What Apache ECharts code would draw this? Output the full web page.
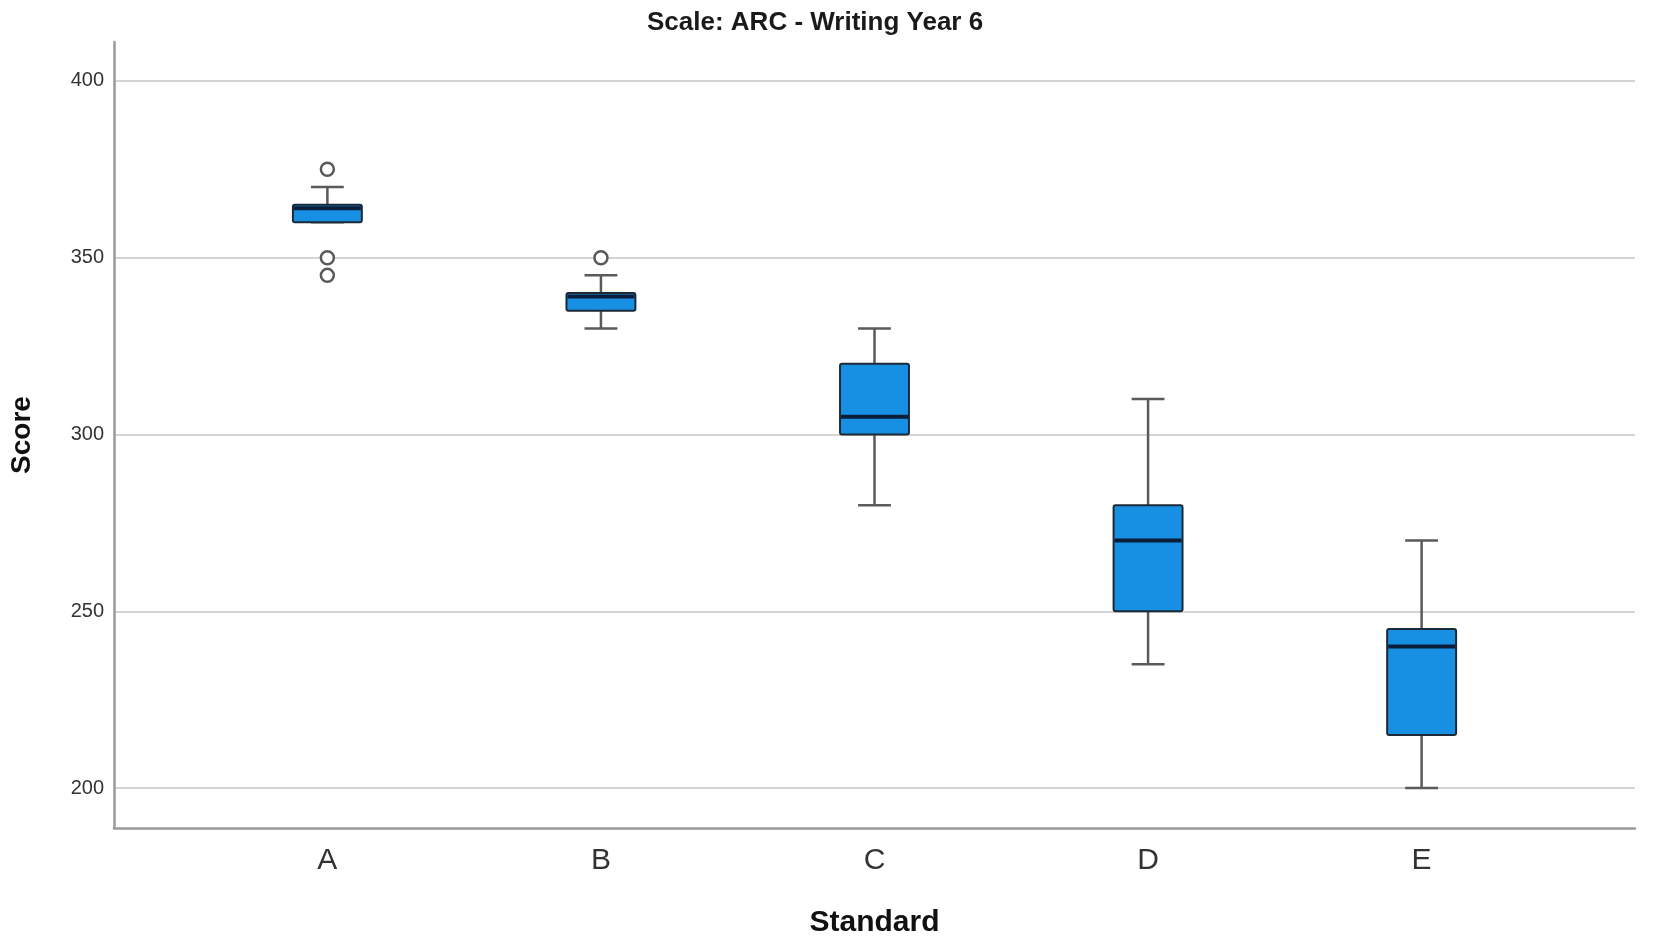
<!DOCTYPE html>
<html lang="en">
  <head>
    <meta charset="UTF-8" />
    <title>Scale: ARC - Writing Year 6</title>
    <script src="https://cdn.jsdelivr.net/npm/echarts@6/dist/echarts.min.js"></script>
    <style>
      html, body { margin: 0; padding: 0; background: #fff; }
      #boxChart { width: 1654px; height: 947px; }
    </style>
  </head>
  <body>
    <div id="boxChart"></div>
    <script>
      // data
      var categories = ['A', 'B', 'C', 'D', 'E'];
      var whiskerLow = [360, 330, 280, 235, 200];
      var q1 = [360, 335, 300, 250, 215];
      var median = [364, 339, 305, 270, 240];
      var q3 = [365, 340, 320, 280, 245];
      var whiskerHigh = [370, 345, 330, 310, 270];
      // [category index, score]
      var outliers = [[0, 375], [0, 350], [0, 345], [1, 350]];
      var yTicks = [200, 250, 300, 350, 400];

      drawBoxChart();

      function drawBoxChart() {
        var chartDom = document.getElementById('boxChart');
        var chart = echarts.init(chartDom);

        var boxData = [];
        for (var i = 0; i < categories.length; i++) {
          boxData.push([i, whiskerLow[i], q1[i], median[i], q3[i], whiskerHigh[i]]);
        }

        var boxWidth = 0.252; // in x units
        var capWidth = 0.12;

        // SPSS-like box: narrow whisker caps, thick dark median
        var renderBox = function (params, api) {
          var x = api.value(0);
          var pLow = api.coord([x, api.value(1)]);
          var pQ1 = api.coord([x, api.value(2)]);
          var pMed = api.coord([x, api.value(3)]);
          var pQ3 = api.coord([x, api.value(4)]);
          var pHigh = api.coord([x, api.value(5)]);
          var bw = api.size([boxWidth, 0])[0];
          var cw = api.size([capWidth, 0])[0];
          var cx = pMed[0];
          var whiskerStyle = { stroke: '#5a5a5a', lineWidth: 2.5 };

          return {
            type: 'group',
            children: [
              { type: 'line', shape: { x1: cx, y1: pHigh[1], x2: cx, y2: pQ3[1] }, style: whiskerStyle },
              { type: 'line', shape: { x1: cx, y1: pLow[1], x2: cx, y2: pQ1[1] }, style: whiskerStyle },
              { type: 'line', shape: { x1: cx - cw / 2, y1: pHigh[1], x2: cx + cw / 2, y2: pHigh[1] }, style: whiskerStyle },
              { type: 'line', shape: { x1: cx - cw / 2, y1: pLow[1], x2: cx + cw / 2, y2: pLow[1] }, style: whiskerStyle },
              {
                type: 'rect',
                shape: { x: cx - bw / 2, y: pQ3[1], width: bw, height: pQ1[1] - pQ3[1], r: 2 },
                style: { fill: '#1790e4', stroke: '#1c2a38', lineWidth: 2 }
              },
              {
                type: 'line',
                shape: { x1: cx - bw / 2 + 1, y1: pMed[1], x2: cx + bw / 2 - 1, y2: pMed[1] },
                style: { stroke: '#0a1e3a', lineWidth: 4 }
              }
            ]
          };
        };

        var option = {
          backgroundColor: '#fff',
          animation: false,
          title: {
            text: 'Scale: ARC - Writing Year 6',
            left: 642,
            top: 5,
            textStyle: {
              fontFamily: 'Liberation Sans',
              fontSize: 26,
              fontWeight: 'bold',
              color: '#1a1a1a'
            }
          },
          grid: {
            left: 112,
            right: 19,
            top: 42,
            bottom: 119
          },
          xAxis: {
            type: 'value',
            min: -0.78,
            max: 4.78,
            name: 'Standard',
            nameLocation: 'middle',
            nameGap: 80,
            nameTextStyle: {
              fontFamily: 'Liberation Sans',
              fontSize: 30,
              fontWeight: 'bold',
              color: '#111'
            },
            axisLine: { onZero: false, lineStyle: { color: '#9a9a9a', width: 2.5 } },
            axisTick: { show: false },
            splitLine: { show: false },
            axisLabel: {
              customValues: [0, 1, 2, 3, 4],
              margin: 18,
              fontFamily: 'Liberation Sans',
              fontSize: 30,
              color: '#333',
              formatter: function (v) {
                return categories[Math.round(v)];
              }
            }
          },
          yAxis: {
            type: 'value',
            min: 188.7,
            max: 411,
            name: 'Score',
            nameLocation: 'middle',
            nameGap: 78,
            nameTextStyle: {
              fontFamily: 'Liberation Sans',
              fontSize: 28,
              fontWeight: 'bold',
              color: '#111'
            },
            axisLine: { show: true, onZero: false, lineStyle: { color: '#9a9a9a', width: 2.5 } },
            axisTick: { show: false, customValues: yTicks },
            splitLine: { show: true, lineStyle: { color: '#d4d4d4', width: 2 } },
            axisLabel: {
              customValues: yTicks,
              margin: 10,
              fontFamily: 'Liberation Sans',
              fontSize: 20,
              color: '#333'
            }
          },
          series: [
            {
              name: 'box',
              type: 'custom',
              renderItem: renderBox,
              encode: { x: 0, y: [1, 2, 3, 4, 5] },
              data: boxData,
              z: 3
            },
            {
              name: 'outlier',
              type: 'scatter',
              symbol: 'circle',
              symbolSize: 13,
              itemStyle: { color: '#fff', borderColor: '#5a5a5a', borderWidth: 2.5, opacity: 1 },
              data: outliers,
              z: 4
            }
          ]
        };

        chart.setOption(option);
      }
    </script>
  </body>
</html>
